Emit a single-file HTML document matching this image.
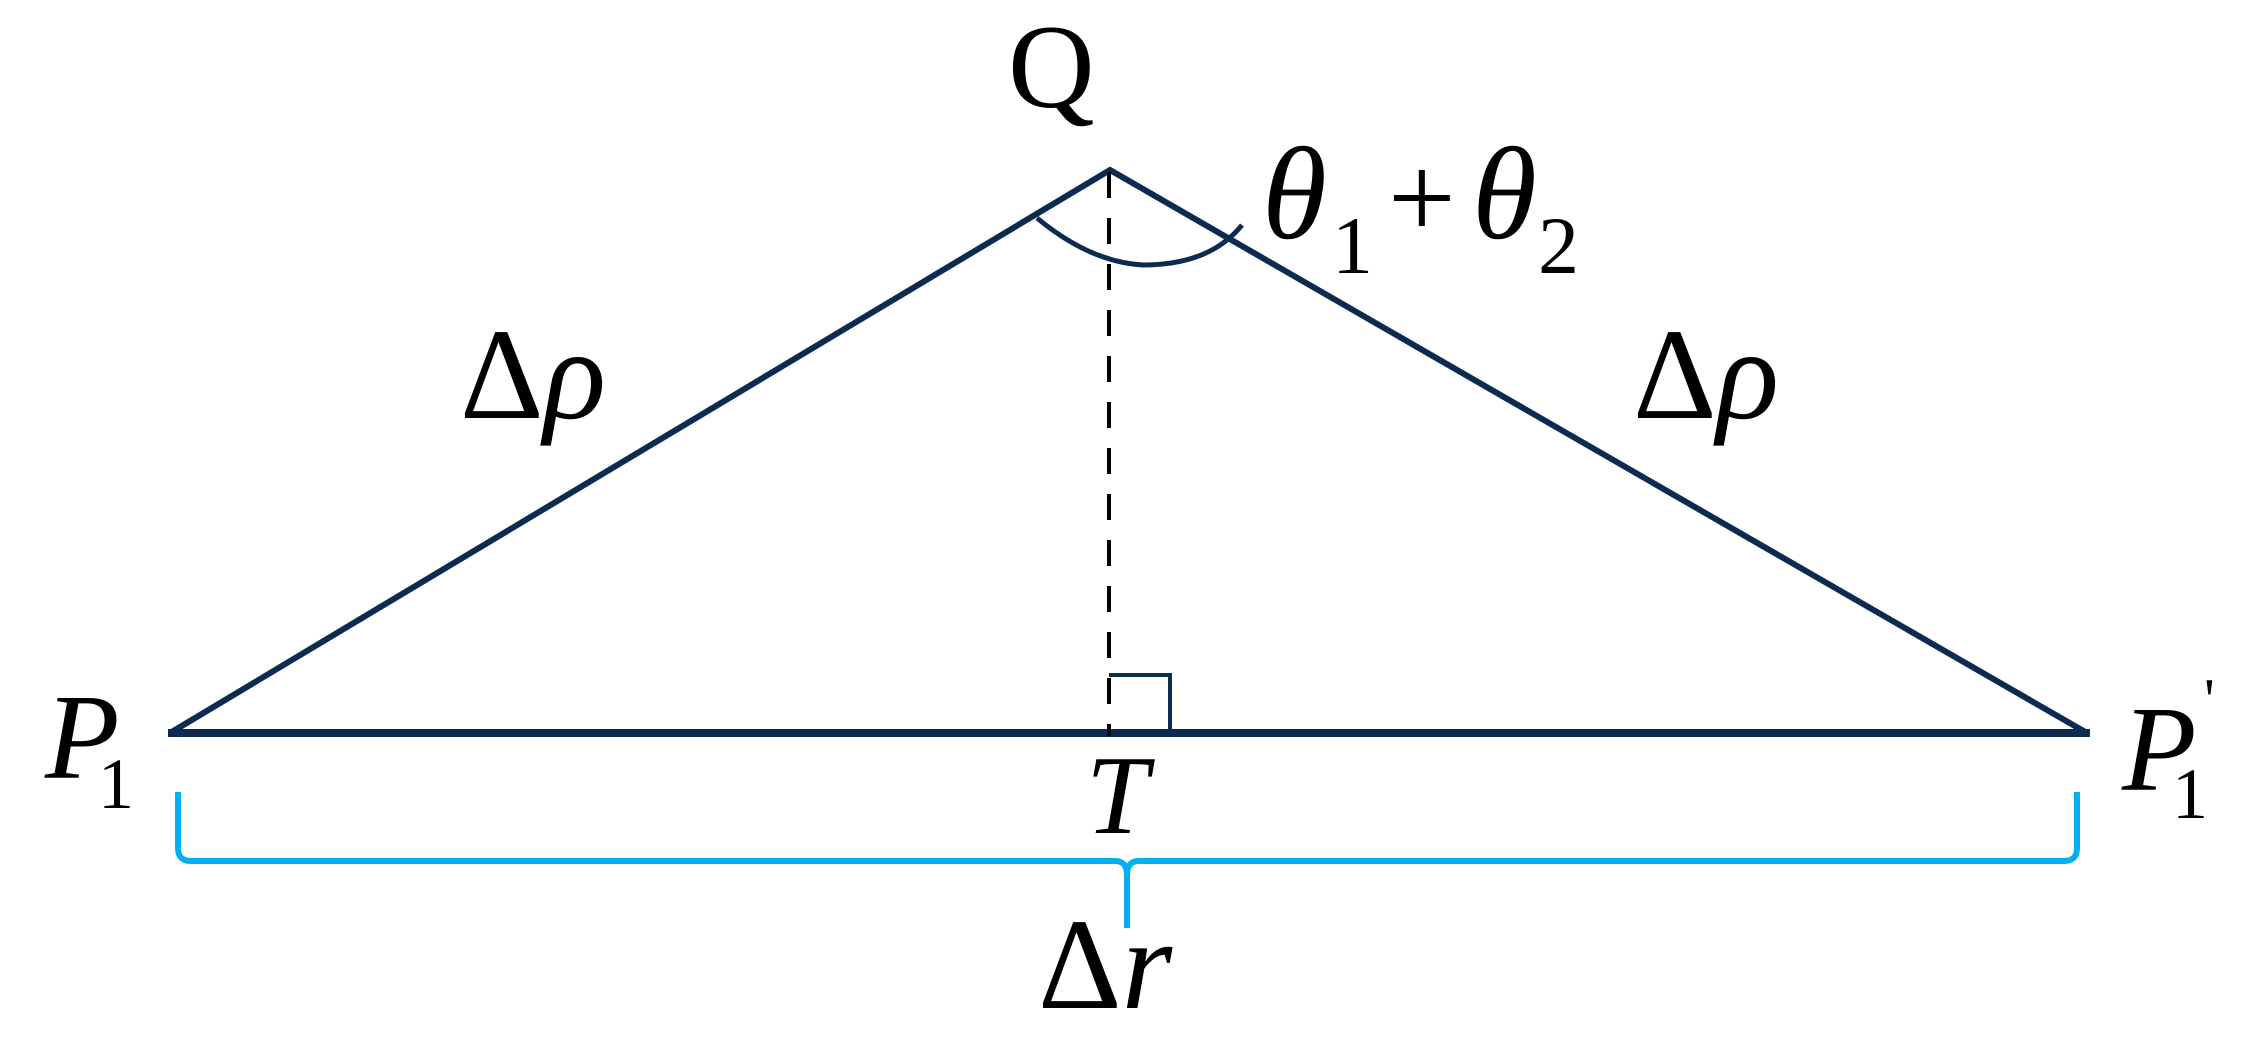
<!DOCTYPE html>
<html><head><meta charset="utf-8"><style>
html,body{margin:0;padding:0;background:#fff;}
svg{display:block;}
text{font-family:"Liberation Serif",serif;fill:#000;}
</style></head><body>
<svg width="2253" height="1041" viewBox="0 0 2253 1041" xmlns="http://www.w3.org/2000/svg">
<polyline points="170,733 1110,170 2087,733" fill="none" stroke="#0d2a50" stroke-width="6" stroke-linejoin="miter"/>
<line x1="168" y1="733" x2="2090" y2="733" stroke="#0d2a50" stroke-width="8"/>
<line x1="1109" y1="172" x2="1109" y2="736" stroke="#000" stroke-width="4" stroke-dasharray="26,20"/>
<polyline points="1109,675 1170,675 1170,733" fill="none" stroke="#0d2a50" stroke-width="4"/>
<path d="M1037,218 Q1090,262 1143,265 Q1210,265 1242,225" fill="none" stroke="#0d2a50" stroke-width="5"/>
<path d="M178,792 L178,848 Q178,861 191,861 L1115,861 Q1127,861 1127,875 L1127,928 M1127,875 Q1127,861 1139,861 L2064,861 Q2077,861 2077,848 L2077,792" fill="none" stroke="#00b0f0" stroke-width="6"/>
<text x="1008" y="107" font-size="120">Q</text>
<text x="1262" y="238" font-size="132" font-style="italic">θ</text>
<text x="1332" y="273" font-size="82">1</text>
<text x="1388" y="238" font-size="120">+</text>
<text x="1472" y="238" font-size="132" font-style="italic">θ</text>
<text x="1538" y="273" font-size="82">2</text>
<text x="460" y="418" font-size="130">Δ<tspan font-style="italic">ρ</tspan></text>
<text x="1633" y="418" font-size="130">Δ<tspan font-style="italic">ρ</tspan></text>
<text x="45" y="778" font-size="122" font-style="italic">P</text>
<text x="98" y="808" font-size="72">1</text>
<text x="2122" y="790" font-size="122" font-style="italic">P</text>
<text x="2172" y="818" font-size="72">1</text>
<text x="2204" y="720" font-size="60">'</text>
<text x="1086" y="833" font-size="112" font-style="italic">T</text>
<text x="1038" y="1008" font-size="130">Δ<tspan font-style="italic">r</tspan></text>
</svg>
</body></html>
